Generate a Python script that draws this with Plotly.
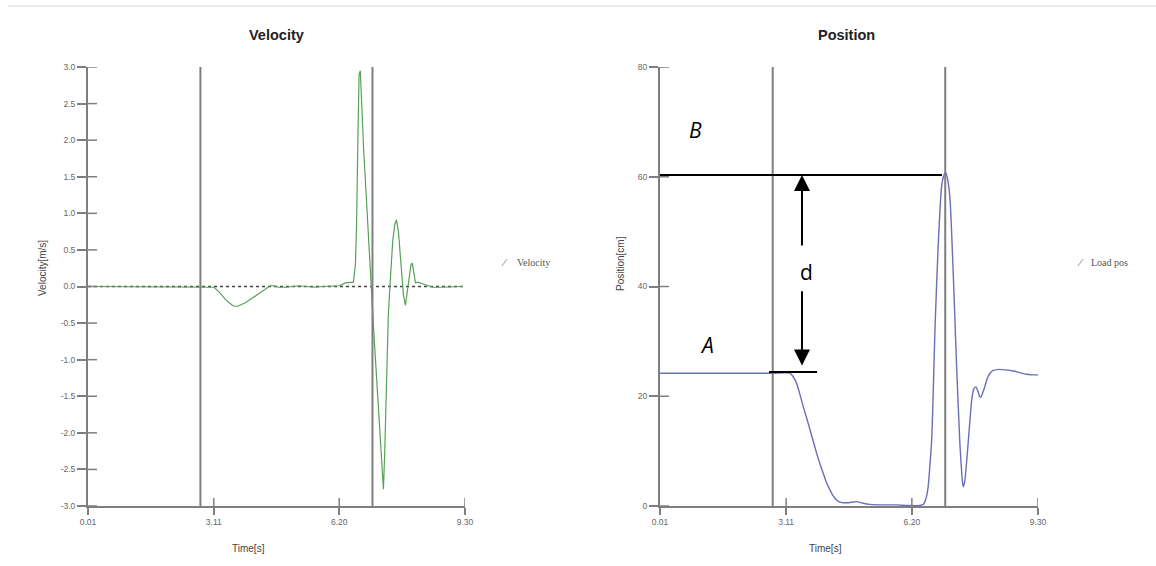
import plotly.graph_objects as go

W, H = 1156, 566

# ---------------- data ----------------
vel_time = [0.01, 2.78, 3.00, 3.12, 3.25, 3.40, 3.55, 3.62, 3.70, 3.76, 3.82, 3.90, 4.00, 4.10,
            4.20, 4.30, 4.40, 4.50, 4.60, 4.70, 4.90, 5.00, 5.20, 5.40, 5.60, 5.80, 6.00,
            6.20, 6.35, 6.45, 6.55, 6.60, 6.63, 6.66, 6.69, 6.72, 6.75, 6.78, 6.80, 6.84,
            6.91, 6.99, 7.05, 7.12, 7.20, 7.26, 7.29, 7.32, 7.37, 7.41, 7.45, 7.52, 7.57,
            7.61, 7.66, 7.71, 7.78, 7.83, 7.88, 7.92, 7.97, 8.00, 8.04, 8.08, 8.14, 8.20,
            8.35, 8.50, 8.70, 9.00, 9.25]
vel_value = [0.0, 0.0, 0.0, -0.01, -0.08, -0.18, -0.25, -0.27, -0.27, -0.26, -0.24, -0.22,
             -0.18, -0.14, -0.10, -0.06, -0.02, 0.01, 0.01, -0.01, -0.01, 0.0, 0.01, 0.0,
             -0.01, 0.0, 0.0, 0.01, 0.05, 0.06, 0.06, 0.30, 0.90, 2.00, 2.90, 2.95, 2.50,
             2.00, 1.90, 1.50, 0.72, 0.0, -0.60, -1.25, -2.00, -2.60, -2.77, -2.30, -1.00,
             -0.40, 0.0, 0.63, 0.85, 0.91, 0.75, 0.36, -0.10, -0.26, -0.05, 0.13, 0.30,
             0.32, 0.20, 0.05, 0.06, 0.05, 0.02, -0.01, -0.01, 0.0, 0.0]

pos_time = [0.01, 2.78, 3.20, 3.28, 3.37, 3.45, 3.53, 3.62, 3.70, 3.78, 3.86, 3.94, 4.02,
            4.10, 4.19, 4.27, 4.35, 4.43, 4.51, 4.65, 4.84, 5.00, 5.17, 5.50, 5.83, 6.10,
            6.40, 6.48, 6.52, 6.56, 6.60, 6.65, 6.69, 6.73, 6.77, 6.85, 6.93, 6.99, 7.03,
            7.08, 7.14, 7.22, 7.30, 7.38, 7.43, 7.46, 7.50, 7.55, 7.61, 7.67, 7.72, 7.77,
            7.82, 7.87, 7.90, 7.95, 7.99, 8.05, 8.12, 8.20, 8.36, 8.50, 8.69, 8.85, 9.02,
            9.15, 9.30]
pos_value = [24.2, 24.2, 24.2, 23.6, 22.3, 20.3, 18.1, 15.9, 13.8, 11.7, 9.6, 7.7, 6.0,
             4.3, 2.9, 1.8, 1.1, 0.7, 0.6, 0.6, 0.8, 0.5, 0.3, 0.2, 0.2, 0.1, 0.1, 0.3,
             0.8, 1.7, 3.5, 8.0, 12.5, 22.0, 32.7, 47.9, 58.2, 60.3, 60.8, 59.5, 55.7,
             41.8, 25.4, 11.4, 5.5, 3.5, 4.5, 8.4, 14.0, 19.3, 21.3, 21.7, 21.0, 19.9,
             19.9, 20.8, 21.7, 23.2, 24.2, 24.7, 24.9, 24.8, 24.6, 24.3, 24.0, 23.9, 23.9]

marker_times = [2.78, 7.02]          # vertical cursor lines
x_tickvals = [0.01, 3.11, 6.20, 9.30]
x_ticktext = ["0.01", "3.11", "6.20", "9.30"]
vel_ticks = [-3.0, -2.5, -2.0, -1.5, -1.0, -0.5, 0.0, 0.5, 1.0, 1.5, 2.0, 2.5, 3.0]
pos_ticks = [0, 20, 40, 60, 80]

# annotation values on the position chart
level_A = 24.4
level_B = 60.3
d_x = 3.50

# ---------------- figure ----------------
AX = "#7f7f7f"
TICKF = dict(family="Liberation Sans, Arial, sans-serif", size=8.5, color="#666666")
dom_y = [(H - 506) / H, (H - 67) / H]
dom_x1 = [88 / W, 465 / W]
dom_x2 = [660 / W, 1038 / W]

fig = go.Figure()
fig.add_trace(go.Scatter(x=vel_time, y=vel_value, mode="lines", xaxis="x", yaxis="y",
                         line=dict(color="#55a155", width=1.2), showlegend=False,
                         name="Velocity"))
fig.add_trace(go.Scatter(x=pos_time, y=pos_value, mode="lines", xaxis="x2", yaxis="y2",
                         line=dict(color="#6b6fb6", width=1.4, shape="spline", smoothing=0.5),
                         showlegend=False, name="Load pos"))

xcommon = dict(range=[0.01, 9.30], tickvals=x_tickvals, ticktext=x_ticktext,
               showgrid=False, zeroline=False, showline=True, linecolor=AX, linewidth=2,
               ticks="outside", ticklen=7, tickwidth=1.5, tickcolor=AX, tickfont=TICKF,
               automargin=False)
ycommon = dict(showgrid=False, zeroline=False, showline=True, linecolor=AX, linewidth=2,
               ticks="outside", ticklen=9, tickwidth=1.5, tickcolor=AX, tickfont=TICKF,
               automargin=False)

fig.update_layout(
    width=W, height=H, margin=dict(l=0, r=0, t=0, b=0),
    paper_bgcolor="white", plot_bgcolor="white",
    xaxis=dict(domain=dom_x1, anchor="y", **xcommon),
    yaxis=dict(domain=dom_y, anchor="x", range=[-3, 3], tickvals=vel_ticks,
               ticktext=[f"{v:.1f}" for v in vel_ticks], **ycommon),
    xaxis2=dict(domain=dom_x2, anchor="y2", **xcommon),
    yaxis2=dict(domain=dom_y, anchor="x2", range=[0, 80], tickvals=pos_ticks,
                ticktext=[str(v) for v in pos_ticks], **ycommon),
)

shapes = []
# faint line on top
shapes.append(dict(type="line", xref="paper", yref="paper", x0=8 / W, x1=1, y0=(H - 6) / H,
                   y1=(H - 6) / H, line=dict(color="#ececec", width=2)))
# dotted zero line on velocity plot
shapes.append(dict(type="line", xref="x domain", yref="y", x0=0, x1=1, y0=0, y1=0,
                   line=dict(color="#444444", width=1.3, dash="dot"), layer="below"))
for xa, ya in (("x", "y"), ("x2", "y2")):
    for t in marker_times:
        shapes.append(dict(type="line", xref=xa, yref=f"{ya} domain", x0=t, x1=t, y0=0, y1=1,
                           line=dict(color=AX, width=2)))
    # inside halves of x ticks
    for t in x_tickvals[1:]:
        shapes.append(dict(type="line", xref=xa, yref=f"{ya} domain", x0=t, x1=t, y0=0,
                           y1=8 / 439, line=dict(color=AX, width=1.5)))
# inside halves of y ticks
for v in vel_ticks:
    shapes.append(dict(type="line", xref="x domain", yref="y", x0=0, x1=9 / 377, y0=v, y1=v,
                       line=dict(color=AX, width=1.5)))
for v in pos_ticks:
    shapes.append(dict(type="line", xref="x2 domain", yref="y2", x0=0, x1=9 / 378, y0=v, y1=v,
                       line=dict(color=AX, width=1.5)))
# A and B levels
shapes.append(dict(type="line", xref="x2", yref="y2", x0=-0.19, x1=6.94, y0=level_B,
                   y1=level_B, line=dict(color="black", width=2)))
shapes.append(dict(type="line", xref="x2", yref="y2", x0=2.69, x1=3.87, y0=level_A,
                   y1=level_A, line=dict(color="black", width=2)))
# legend slashes
for sx in (502, 1078):
    shapes.append(dict(type="line", xref="paper", yref="paper", x0=sx / W, x1=(sx + 5) / W,
                       y0=(H - 266) / H, y1=(H - 259) / H, line=dict(color="#999999", width=1)))
fig.update_layout(shapes=shapes)


def note(text, px, py, font, xanchor="center", **kw):
    return dict(text=text, x=px / W, y=(H - py) / H, xref="paper", yref="paper",
                xanchor=xanchor, yanchor="middle", showarrow=False, font=font, **kw)


ann = []
TITLEF = dict(family="Liberation Sans, Arial, sans-serif", size=14.5, color="#222222")
ann.append(note("<b>Velocity</b>", 276, 35, TITLEF))
ann.append(note("<b>Position</b>", 846, 35, TITLEF))
LABF = dict(family="Liberation Sans, Arial, sans-serif", size=10, color="#444444")
ann.append(note("Time[s]", 248, 548, LABF))
ann.append(note("Time[s]", 825, 548, LABF))
ann.append(note("Velocity[m/s]", 42, 268, LABF, textangle=-90))
ann.append(note("Position[cm]", 620, 264, LABF, textangle=-90))
LEGF = dict(family="Liberation Serif, Times New Roman, serif", size=10, color="#555555")
ann.append(note("Velocity", 515, 262, LEGF, xanchor="left"))
ann.append(note("Load pos", 1089, 262, LEGF, xanchor="left"))
BIG = dict(family="Open Sans, Liberation Sans, sans-serif", size=21, color="black")
ann.append(note("<i>B</i>", 695, 130, BIG))
ann.append(note("<i>A</i>", 707, 345, BIG))
ann.append(note("d", 806, 272, BIG))
# arrows
ann.append(dict(x=d_x, y=level_B, ax=d_x, ay=47.2, xref="x2", yref="y2", axref="x2",
                ayref="y2", text="", showarrow=True, arrowhead=2, arrowsize=1.6,
                arrowwidth=2, arrowcolor="black"))
ann.append(dict(x=d_x, y=25.6, ax=d_x, ay=39.4, xref="x2", yref="y2", axref="x2",
                ayref="y2", text="", showarrow=True, arrowhead=2, arrowsize=1.6,
                arrowwidth=2, arrowcolor="black"))
fig.update_layout(annotations=ann)

fig.write_html("out.html",
               post_script="document.body.style.margin='0';document.body.style.padding='0';")
